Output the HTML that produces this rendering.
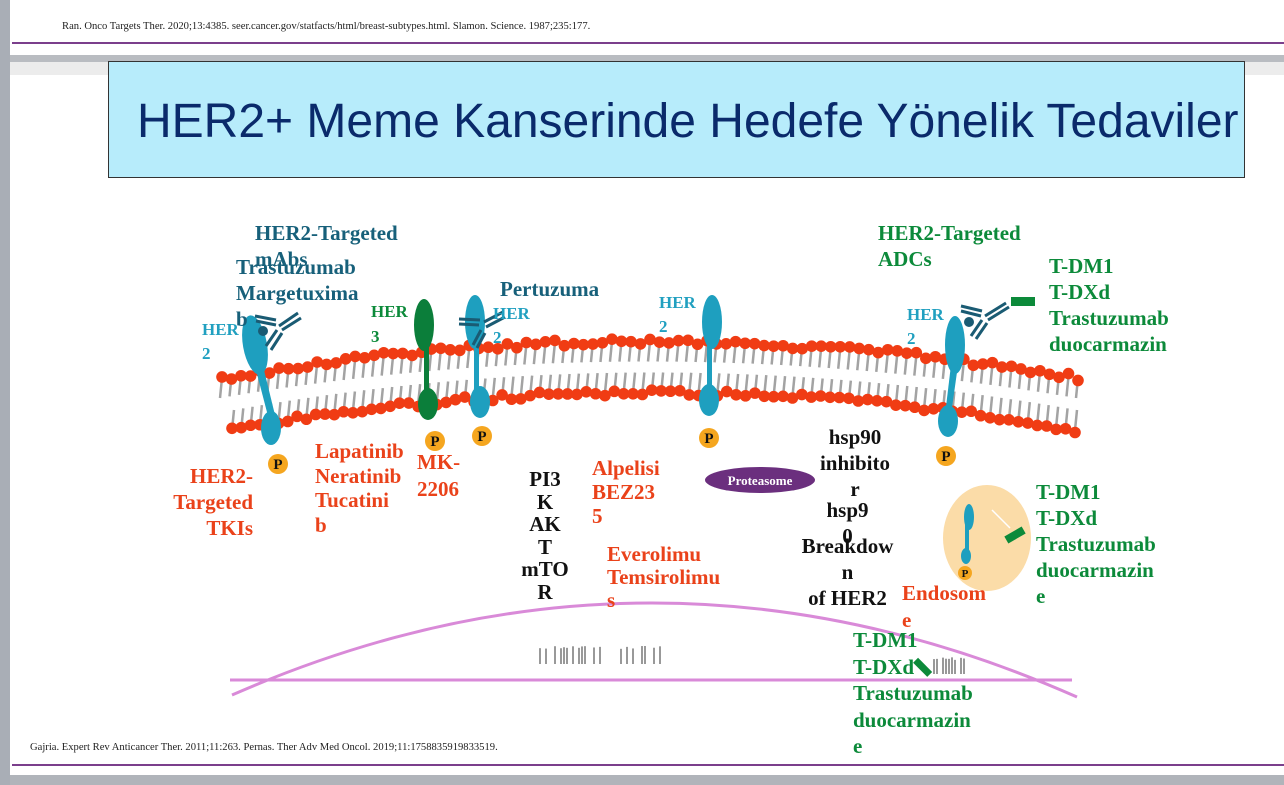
<!DOCTYPE html>
<html><head><meta charset="utf-8"><style>
body{margin:0;width:1284px;height:785px;position:relative;overflow:hidden;background:#fff;font-family:"Liberation Serif",serif}
.t{position:absolute;font-weight:bold;font-size:21px;line-height:26px;white-space:nowrap}
.mab{color:#17607a}.lt{color:#21a0c0;font-size:17px;line-height:24px}.gr{color:#0c8a3a}.rd{color:#ea421a}.bk{color:#111}
.c{text-align:center}
</style></head><body>
<div style="position:absolute;left:0;top:0;width:10px;height:785px;background:#a9aeb6"></div>
<div style="position:absolute;left:62px;top:21px;font-size:10.6px;color:#222;white-space:nowrap">Ran. Onco Targets Ther. 2020;13:4385. seer.cancer.gov/statfacts/html/breast-subtypes.html. Slamon. Science. 1987;235:177.</div>
<div style="position:absolute;left:12px;top:42px;width:1272px;height:2px;background:#7b3f8c"></div>
<div style="position:absolute;left:10px;top:55px;width:1274px;height:7px;background:#b9bcc1"></div>
<div style="position:absolute;left:10px;top:62px;width:1274px;height:13px;background:#ececec"></div>
<div style="position:absolute;left:108px;top:61px;width:1135px;height:115px;background:#b7ecfb;border:1.5px solid #333;"></div>
<div style="position:absolute;left:137px;top:94px;font-family:'Liberation Sans',sans-serif;font-size:48px;color:#0a2a6b;white-space:nowrap">HER2+ Meme Kanserinde Hedefe Yönelik Tedaviler</div>

<svg id="s" width="1284" height="785" style="position:absolute;left:0;top:0">
<g id="mem"></g>
<path d="M232,695 Q654,510 1077,697" fill="none" stroke="#d98ad8" stroke-width="3"/>
<line x1="230" y1="680" x2="1072" y2="680" stroke="#d98ad8" stroke-width="3"/>
<g stroke="#555" stroke-width="1.2" id="dna"></g>
<g fill="#1e9fbf" stroke="none">
<ellipse cx="255" cy="345" rx="12" ry="30" transform="rotate(-10 255 345)"/>
<polygon points="256,370 264,370 275,415 268,416"/>
<ellipse cx="271" cy="428" rx="10" ry="17"/>
<ellipse cx="475" cy="322" rx="10" ry="27"/>
<rect x="474" y="340" width="5" height="60"/>
<ellipse cx="480" cy="402" rx="10" ry="16"/>
<ellipse cx="712" cy="322" rx="10" ry="27"/>
<rect x="707" y="340" width="5" height="55"/>
<ellipse cx="709" cy="400" rx="10" ry="16"/>
<ellipse cx="955" cy="345" rx="10" ry="29"/>
<polygon points="951,365 958,365 951,415 945,415"/>
<ellipse cx="948" cy="421" rx="10" ry="16"/>
</g>
<g fill="#0b7e3a">
<ellipse cx="424" cy="325" rx="10" ry="26"/>
<rect x="424" y="340" width="5" height="60"/>
<ellipse cx="428" cy="404" rx="10" ry="16"/>
</g>
<g stroke="#1a5b73" stroke-width="3" fill="none">
<path d="M255,316 L276,320 M256,321 L276,325 M279,326 L298,313 M282,330 L301,318 M277,330 L266,346 M282,333 L271,350"/>
<path d="M459,319 L480,320 M459,324 L479,325 M484,322 L503,312 M486,327 L505,317 M481,330 L473,345 M485,333 L477,348"/>
<path d="M961,306 L982,311 M961,311 L981,316 M985,316 L1006,303 M988,320 L1009,307 M982,320 L971,336 M987,323 L976,339"/>
<path d="M973,496 L985,498 M973,499 L984,501 M987,500 L997,492 M989,503 L999,495 M985,504 L979,513 M988,506 L982,515" stroke-width="2"/>
</g>
<g fill="#1a5b73"><circle cx="263" cy="331" r="5"/><circle cx="969" cy="322" r="5"/><circle cx="977" cy="509" r="3"/></g>
<ellipse cx="987" cy="538" rx="44" ry="53" fill="#fbdca8"/>
<g fill="#1e9fbf"><ellipse cx="969" cy="517" rx="5" ry="13"/><rect x="965" y="520" width="4" height="35"/><ellipse cx="966" cy="556" rx="5" ry="8"/></g>
<line x1="992" y1="510" x2="1010" y2="528" stroke="#fff" stroke-width="1.5"/>
<g fill="#0c8a3a">
<rect x="1011" y="297" width="24" height="9"/>
<rect x="1005" y="531" width="20" height="8" transform="rotate(-30 1015 535)"/>
<rect x="913" y="664" width="20" height="7" transform="rotate(45 923 667)"/>
</g>
<g fill="#f5a61f"><circle cx="278" cy="464" r="10"/><circle cx="435" cy="441" r="10"/><circle cx="482" cy="436" r="10"/><circle cx="709" cy="438" r="10"/><circle cx="946" cy="456" r="10"/><circle cx="965" cy="573" r="7"/></g>
<g font-family="Liberation Serif" font-weight="bold" font-size="15" fill="#111" text-anchor="middle">
<text x="278" y="469">P</text><text x="435" y="446">P</text><text x="482" y="441">P</text><text x="709" y="443">P</text><text x="946" y="461">P</text><text x="965" y="577" font-size="11">P</text>
</g>
<ellipse cx="760" cy="480" rx="55" ry="13" fill="#6b2f7e"/>
<text x="760" y="485" fill="#fff" font-family="Liberation Serif" font-weight="bold" font-size="13" text-anchor="middle">Proteasome</text>
</svg>

<div class="t mab" style="left:255px;top:220px">HER2-Targeted<br>mAbs</div>
<div class="t mab" style="left:236px;top:254px">Trastuzumab<br>Margetuxima<br>b</div>
<div class="t lt" style="left:202px;top:318px">HER<br>2</div>
<div class="t gr" style="left:371px;top:299px;font-size:17px;line-height:25px">HER<br>3</div>
<div class="t mab" style="left:500px;top:276px">Pertuzuma</div>
<div class="t lt" style="left:493px;top:302px">HER<br>2</div>
<div class="t lt" style="left:659px;top:291px">HER<br>2</div>
<div class="t lt" style="left:907px;top:303px">HER<br>2</div>
<div class="t gr" style="left:878px;top:220px">HER2-Targeted<br>ADCs</div>
<div class="t gr" style="left:1049px;top:253px">T-DM1<br>T-DXd<br>Trastuzumab<br>duocarmazin</div>
<div class="t rd" style="left:153px;top:463px;width:100px;text-align:right">HER2-<br>Targeted<br>TKIs</div>
<div class="t rd" style="left:315px;top:439px;line-height:24.5px">Lapatinib<br>Neratinib<br>Tucatini<br>b</div>
<div class="t rd" style="left:417px;top:449px;line-height:27px">MK-<br>2206</div>
<div class="t bk c" style="left:500px;top:468px;width:90px;line-height:22.5px">PI3<br>K<br>AK<br>T<br>mTO<br>R</div>
<div class="t rd" style="left:592px;top:456px;line-height:24px">Alpelisi<br>BEZ23<br>5</div>
<div class="t rd" style="left:607px;top:543px;line-height:23px">Everolimu<br>Temsirolimu<br>s</div>
<div class="t bk c" style="left:795px;top:424px;width:120px;line-height:26px">hsp90<br>inhibito<br>r</div>
<div class="t bk c" style="left:795px;top:497px;width:105px;line-height:26px">hsp9<br>0</div>
<div class="t bk c" style="left:790px;top:533px;width:115px;line-height:26px">Breakdow<br>n<br>of HER2</div>
<div class="t rd" style="left:902px;top:580px;line-height:27px">Endosom<br>e</div>
<div class="t gr" style="left:1036px;top:479px">T-DM1<br>T-DXd<br>Trastuzumab<br>duocarmazin<br>e</div>
<div class="t gr" style="left:853px;top:627px;line-height:26.5px">T-DM1<br>T-DXd<br>Trastuzumab<br>duocarmazin<br>e</div>

<div style="position:absolute;left:30px;top:742px;font-size:10.6px;color:#222;white-space:nowrap">Gajria. Expert Rev Anticancer Ther. 2011;11:263. Pernas. Ther Adv Med Oncol. 2019;11:1758835919833519.</div>
<div style="position:absolute;left:12px;top:764px;width:1272px;height:2px;background:#7b3f8c"></div>
<div style="position:absolute;left:10px;top:775px;width:1274px;height:10px;background:#b0b4ba"></div>

<script>
var NS="http://www.w3.org/2000/svg",g=document.getElementById('mem');
function q(p0,c,p1,t){var u=1-t;return [u*u*p0[0]+2*u*t*c[0]+t*t*p1[0],u*u*p0[1]+2*u*t*c[1]+t*t*p1[1]];}
function el(n,a){var e=document.createElementNS(NS,n);for(var k in a)e.setAttribute(k,a[k]);g.appendChild(e);}
var N=90,seed=3;function r(){seed=(seed*9301+49297)%233280;return seed/233280;}
var U=[[222,378],[650,305],[1078,378]],L=[[232,430],[650,355],[1075,430]];
for(var i=0;i<=N;i++){var t=i/N;var a=q(U[0],U[1],U[2],t),b=q(L[0],L[1],L[2],t);
el('line',{x1:a[0],y1:a[1],x2:a[0]-2,y2:a[1]+20,stroke:'#a3a3a3','stroke-width':2.5});
el('line',{x1:b[0],y1:b[1],x2:b[0]+2,y2:b[1]-20,stroke:'#a3a3a3','stroke-width':2.5});}
for(var i=0;i<=N;i++){var t=i/N;var a=q(U[0],U[1],U[2],t),b=q(L[0],L[1],L[2],t);
el('circle',{cx:a[0],cy:a[1]+(r()-0.5)*6,r:5.8,fill:'#f03c14'});
el('circle',{cx:b[0],cy:b[1]+(r()-0.5)*6,r:5.8,fill:'#f03c14'});}
var d=document.getElementById('dna');
function ticks(x0,x1,y0,y1){for(var x=x0;x<=x1;x+=3){if(r()<0.45)continue;var l=document.createElementNS(NS,'line');l.setAttribute('x1',x);l.setAttribute('x2',x);l.setAttribute('y1',y0+r()*3);l.setAttribute('y2',y1);d.appendChild(l);}}
ticks(537,665,646,664);ticks(928,968,657,674);
</script>
</body></html>
